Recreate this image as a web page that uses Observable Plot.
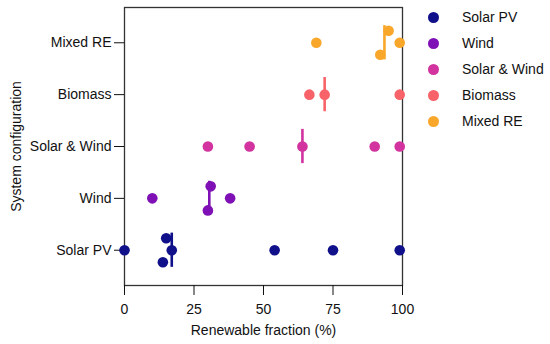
<!DOCTYPE html>
<html><head><meta charset="utf-8">
<script src="https://cdn.jsdelivr.net/npm/d3@7"></script>
<script src="https://cdn.jsdelivr.net/npm/@observablehq/plot@0.6"></script>
<style>
body{margin:0;background:#fff;font-family:"Liberation Sans",Arial,sans-serif;}
#wrap{position:relative;width:550px;height:344px;}
#legend{position:absolute;left:426px;top:4px;font-size:14px;color:#111;}
.item{display:flex;align-items:center;height:26px;}
.sw{width:11px;height:11px;border-radius:50%;margin-left:2px;margin-right:23px;}
</style></head><body><div id="wrap"><div id="legend"></div></div>
<script>
const categories = ["Solar PV", "Wind", "Solar & Wind", "Biomass", "Mixed RE"];
const solarPV = [0, 13.8, 15, 17, 54, 75, 99];
const wind = [10, 30, 31, 38];
const solarWind = [30, 45, 64, 90, 99];
const biomass = [66.5, 72, 99];
const mixedRE = [69, 92, 95, 99];
const colors = ["#10108a", "#7f10b5", "#d2339f", "#f8636a", "#f9a72a"];
const xTicks = [0, 25, 50, 75, 100];

const series = [solarPV, wind, solarWind, biomass, mixedRE];
const laneStep = 0.232;   // vertical spread of overlapping dots (in category units)
const clusterGap = 4.5;   // values closer than this overlap

// place overlapping dots in lanes (centre, up, down, ...)
const points = [];
series.forEach((vals, idx) => {
  const sorted = [...vals].sort((a, b) => b - a);
  const clusters = [];
  sorted.forEach(v => {
    const last = clusters[clusters.length - 1];
    if (last && last[last.length - 1] - v < clusterGap) last.push(v);
    else clusters.push([v]);
  });
  clusters.forEach(cl => {
    const odd = cl.length % 2 === 1;
    cl.forEach((v, k) => {
      let lane;
      if (odd) lane = k === 0 ? 0 : (k % 2 === 1 ? 1 : -1) * Math.ceil(k / 2);
      else lane = (k % 2 === 0 ? 1 : -1) * (Math.floor(k / 2) + 1);
      points.push({category: categories[idx], value: v, y: idx + lane * laneStep});
    });
  });
});
const medians = series.map((vals, idx) => ({category: categories[idx], idx, median: d3.median(vals)}));

const plot = Plot.plot({
  width: 550, height: 344,
  marginLeft: 124, marginRight: 148, marginTop: 7, marginBottom: 59,
  style: {fontFamily: "'Liberation Sans', Arial, sans-serif", fontSize: "14px", color: "#111", background: "transparent"},
  x: {domain: [0, 100]},
  y: {domain: [-0.68, 4.68]},
  color: {domain: categories, range: colors},
  marks: [
    Plot.frame({stroke: "#333", strokeWidth: 1.3}),
    Plot.axisX({ticks: xTicks, tickSize: 10, tickPadding: 9, label: "Renewable fraction (%)", labelAnchor: "center", labelArrow: "none", labelOffset: 49}),
    Plot.axisY({ticks: [0, 1, 2, 3, 4], tickFormat: i => categories[i], tickSize: 10, tickPadding: 3, label: "System configuration", labelAnchor: "center", labelArrow: "none", labelOffset: 113}),
    Plot.ruleX(medians, {x: "median", y1: d => d.idx - 0.33, y2: d => d.idx + 0.33, stroke: "category", strokeWidth: 2.6}),
    Plot.dot(points, {x: "value", y: "y", r: 5.3, fill: "category", stroke: "none"})
  ]
});
document.getElementById("wrap").prepend(plot);

const legend = document.getElementById("legend");
categories.forEach((c, i) => {
  const item = document.createElement("div");
  item.className = "item";
  const sw = document.createElement("span");
  sw.className = "sw";
  sw.style.background = colors[i];
  const t = document.createElement("span");
  t.textContent = c;
  item.append(sw, t);
  legend.append(item);
});
</script>
</body></html>
